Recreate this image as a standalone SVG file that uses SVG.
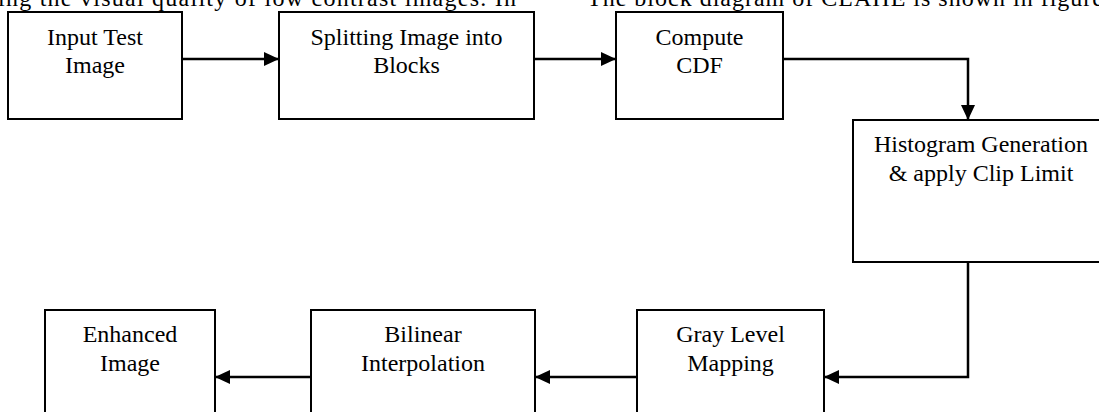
<svg xmlns="http://www.w3.org/2000/svg" width="1099" height="412" viewBox="0 0 1099 412">
<style>
.box{fill:#fff;stroke:#000;stroke-width:2}
.t{font-family:"Liberation Serif","Times New Roman",serif;font-size:24px;fill:#000;text-anchor:middle}
.body{font-family:"Liberation Serif","Times New Roman",serif;font-size:24px;fill:#000}
.c{fill:none;stroke:#000;stroke-width:2.5}
</style>
<defs>
<marker id="ah" markerUnits="userSpaceOnUse" markerWidth="15" markerHeight="14" refX="15" refY="7" orient="auto">
<path d="M0,0 L15,7 L0,14 z" fill="#000"/>
</marker>
</defs>
<rect width="1099" height="412" fill="#fff"/>
<text class="body" x="-2" y="6" textLength="518" lengthAdjust="spacing">ing the visual quality of low contrast images. In</text>
<text class="body" x="587" y="6" textLength="516" lengthAdjust="spacing">The block diagram of CLAHE is shown in figure</text>
<g id="connectors">
<path class="c" d="M182,59 H279" marker-end="url(#ah)"/>
<path class="c" d="M534,59 H616" marker-end="url(#ah)"/>
<path class="c" d="M783,59 H968 V120" marker-end="url(#ah)"/>
<path class="c" d="M968,262 V377 H824" marker-end="url(#ah)"/>
<path class="c" d="M637,377 H535" marker-end="url(#ah)"/>
<path class="c" d="M311,377 H215" marker-end="url(#ah)"/>
</g>
<g id="input">
<rect class="box" x="8" y="12" width="174" height="107"/>
<text class="t" x="95" y="45">Input Test</text>
<text class="t" x="95" y="73">Image</text>
</g>
<g id="split">
<rect class="box" x="279" y="12" width="255" height="107"/>
<text class="t" x="406.5" y="45">Splitting Image into</text>
<text class="t" x="406.5" y="73">Blocks</text>
</g>
<g id="cdf">
<rect class="box" x="616" y="12" width="167" height="107"/>
<text class="t" x="699.5" y="45">Compute</text>
<text class="t" x="699.5" y="73">CDF</text>
</g>
<g id="hist">
<rect class="box" x="853" y="120" width="256" height="142"/>
<text class="t" x="981" y="152">Histogram Generation</text>
<text class="t" x="981" y="181">&amp; apply Clip Limit</text>
</g>
<g id="gray">
<rect class="box" x="637" y="310" width="187" height="110"/>
<text class="t" x="730.5" y="342">Gray Level</text>
<text class="t" x="730.5" y="371">Mapping</text>
</g>
<g id="bilinear">
<rect class="box" x="311" y="310" width="224" height="110"/>
<text class="t" x="423" y="342">Bilinear</text>
<text class="t" x="423" y="371">Interpolation</text>
</g>
<g id="enhanced">
<rect class="box" x="45" y="310" width="170" height="110"/>
<text class="t" x="130" y="342">Enhanced</text>
<text class="t" x="130" y="371">Image</text>
</g>
</svg>
